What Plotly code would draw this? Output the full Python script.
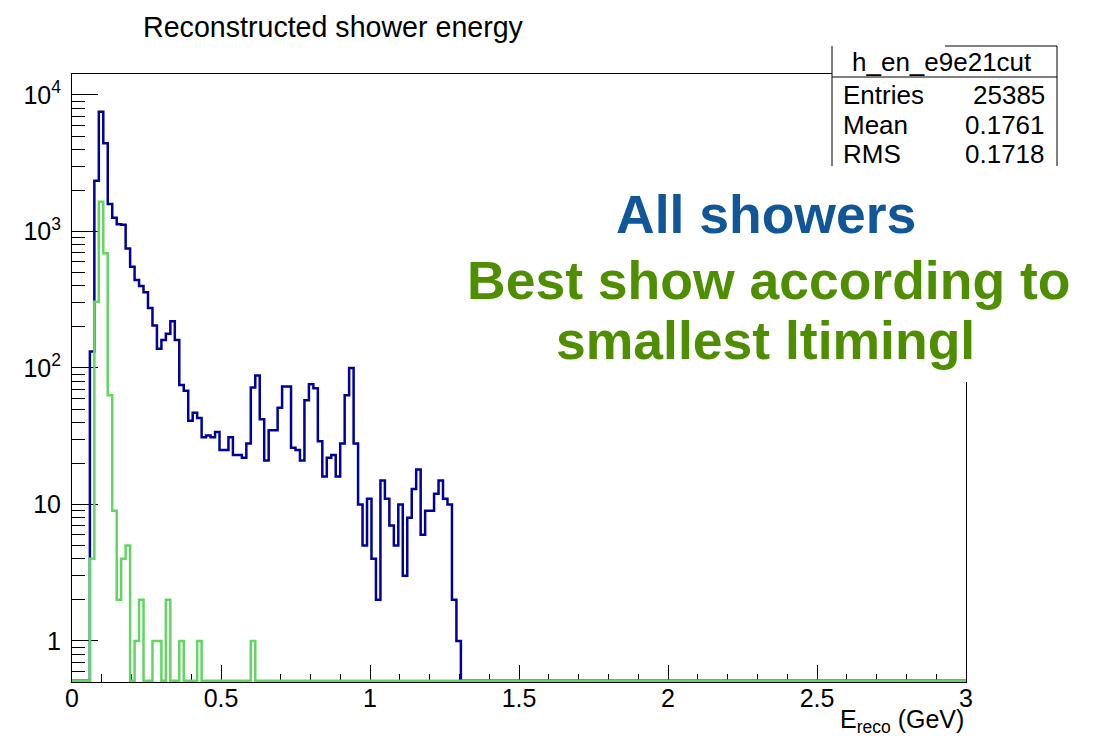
import numpy as np
import plotly.graph_objects as go

# ---------------- data ----------------
X_MIN, X_MAX, N_BINS = 0.0, 3.0, 200
Y_MIN, Y_MAX = 0.5, 14250.0

# bin contents starting at bin 0 (bin width 0.015 GeV); remaining bins are empty
all_showers = [0, 0, 0, 0, 132, 2350, 7550, 4430, 1590, 1260, 1130, 1120, 750, 552,
               441, 399, 359, 275, 205, 138, 160, 178, 220, 160,
               75, 68, 41, 47, 43, 31, 32, 31, 34, 25,
               25, 31, 23, 23, 22, 28, 72, 88, 42, 21,
               35, 35, 51, 73, 73, 26, 25, 21, 58, 76,
               71, 29, 16, 22, 23, 16, 28, 63, 100, 28,
               10, 5, 11, 4, 2, 15, 11, 7, 5, 10,
               3, 8, 13, 18, 6, 9, 9, 12, 15, 11,
               10, 2, 1]
best_shower = [0, 0, 0, 0, 4, 306, 1650, 692, 63, 9, 2, 4, 5, 0, 1, 2, 0, 0, 1, 1,
               0, 2, 0, 0, 1, 0, 0, 0, 1, 0, 0, 0, 0, 0, 0, 0, 0, 0, 0, 0, 1]

x_tickvals = [0, 0.5, 1, 1.5, 2, 2.5, 3]
x_ticktext = ["0", "0.5", "1", "1.5", "2", "2.5", "3"]
y_tickvals = [1, 10, 100, 1000, 10000]
y_ticktext = ["1", "10", "10<sup>2</sup>", "10<sup>3</sup>", "10<sup>4</sup>"]

hist_name = "h_en_e9e21cut"
stat_labels = ["Entries", "Mean", "RMS"]
stat_values = ["25385", "0.1761", "0.1718"]

# ---------------- helpers ----------------
W, H = 1105, 736
L, R, T, B = 72, 966, 74, 682  # plot area in pixels


def px(xpix):
    return (xpix - L) / (R - L)


def py(ypix):
    return (B - ypix) / (B - T)


edges = np.linspace(X_MIN, X_MAX, N_BINS + 1)
# empty bins are drawn along the bottom of the frame (ROOT style), just inside it
ZERO_LEVEL = Y_MIN * 10 ** (1.2 * (np.log10(Y_MAX) - np.log10(Y_MIN)) / (B - T))


def step_xy(counts):
    c = np.zeros(N_BINS)
    c[:len(counts)] = counts
    c = np.where(c > 0, c, ZERO_LEVEL)
    xs = np.append(edges[:-1], edges[-1])
    ys = np.append(c, c[-1])
    return xs, ys


fig = go.Figure()
bx, by = step_xy(all_showers)
gx, gy = step_xy(best_shower)
fig.add_trace(go.Scatter(x=bx, y=by, mode="lines", line=dict(color="#00009a", width=2.5, shape="hv"),
                         showlegend=False, hoverinfo="skip"))
fig.add_trace(go.Scatter(x=gx, y=gy, mode="lines", line=dict(color="rgb(98,214,98)", width=2.5, shape="hv"),
                         showlegend=False, hoverinfo="skip"))

minor_y = [m * 10 ** d for d in range(-1, 5) for m in range(2, 10) if Y_MIN < m * 10 ** d < Y_MAX]

FONT = "Liberation Sans, Arial, Helvetica, sans-serif"

fig.update_layout(
    width=W, height=H,
    margin=dict(l=L, r=W - R, t=T, b=H - B, pad=0),
    paper_bgcolor="white", plot_bgcolor="white",
    font=dict(family=FONT, color="black"),
    title=dict(text="Reconstructed shower energy", x=333 / W, xanchor="center",
               y=1 - 27 / H, yanchor="middle", font=dict(size=28.6, family=FONT, color="black")),
    xaxis=dict(range=[X_MIN, X_MAX], showline=True, linecolor="black", linewidth=1, mirror=True,
               showgrid=False, zeroline=False, ticks="inside", ticklen=17, tickwidth=1,
               tickcolor="black", tickmode="array", tickvals=x_tickvals, ticktext=x_ticktext,
               tickfont=dict(size=25, family=FONT, color="black"), layer="below traces",
               ticklabelstandoff=-6,
               minor=dict(ticks="inside", ticklen=8, tickwidth=1, tickcolor="black", dtick=0.1, tick0=0)),
    yaxis=dict(type="log", range=[np.log10(Y_MIN), np.log10(Y_MAX)], showline=True, linecolor="black",
               linewidth=1, mirror=True, showgrid=False, zeroline=False, ticks="inside", ticklen=26,
               tickwidth=1, tickcolor="black", tickmode="array", tickvals=y_tickvals, ticktext=y_ticktext,
               tickfont=dict(size=25, family=FONT, color="black"), ticklabelstandoff=5,
               layer="below traces",
               minor=dict(ticks="inside", ticklen=13, tickwidth=1, tickcolor="black",
                          tickmode="array", tickvals=minor_y)),
)

shapes = []
# white background behind the big labels
shapes.append(dict(type="rect", xref="paper", yref="paper", x0=px(466), x1=px(1075), y0=py(382), y1=py(166),
                   fillcolor="white", line=dict(width=0), layer="above"))
# stats box
shapes.append(dict(type="rect", xref="paper", yref="paper", x0=px(832), x1=px(1057), y0=py(166), y1=py(46),
                   fillcolor="white", line=dict(width=0), layer="above"))
for (x0, y0, x1, y1) in [(832, 46, 832, 166), (1057, 46, 1057, 166), (945, 46, 1057, 46), (832, 77, 1057, 77)]:
    shapes.append(dict(type="line", xref="paper", yref="paper", x0=px(x0), x1=px(x1), y0=py(y0), y1=py(y1),
                       line=dict(color="black", width=1), layer="above"))
fig.update_layout(shapes=shapes)

ann = []
ann.append(dict(text=hist_name, xref="paper", yref="paper", x=px(942), y=py(62), xanchor="center",
                yanchor="middle", showarrow=False, font=dict(size=26, family=FONT, color="black")))
for i, (lab, val) in enumerate(zip(stat_labels, stat_values)):
    yy = 95 + 29.5 * i
    ann.append(dict(text=lab, xref="paper", yref="paper", x=px(841), y=py(yy), xanchor="left",
                    yanchor="middle", showarrow=False, font=dict(size=26, family=FONT, color="black")))
    ann.append(dict(text=val, xref="paper", yref="paper", x=px(1047), y=py(yy), xanchor="right",
                    yanchor="middle", showarrow=False, font=dict(size=26, family=FONT, color="black")))
# axis title
ann.append(dict(text="E<sub>reco</sub> (GeV)", xref="paper", yref="paper", x=1, y=py(703), xanchor="right",
                yanchor="top", showarrow=False, font=dict(size=25, family=FONT, color="black")))
# big labels
BLUE_TXT = "rgb(16,86,152)"
GREEN_TXT = "rgb(78,142,0)"
for text, col, xc, yc in [("All showers", BLUE_TXT, 766, 214),
                          ("Best show according to", GREEN_TXT, 768.5, 280),
                          ("smallest ltimingl", GREEN_TXT, 765, 340)]:
    ann.append(dict(text="<b>%s</b>" % text, xref="paper", yref="paper", x=px(xc), y=py(yc),
                    xanchor="center", yanchor="middle", showarrow=False,
                    font=dict(size=53.5, family=FONT, color=col)))
fig.update_layout(annotations=ann)

fig.write_html("out.html")
